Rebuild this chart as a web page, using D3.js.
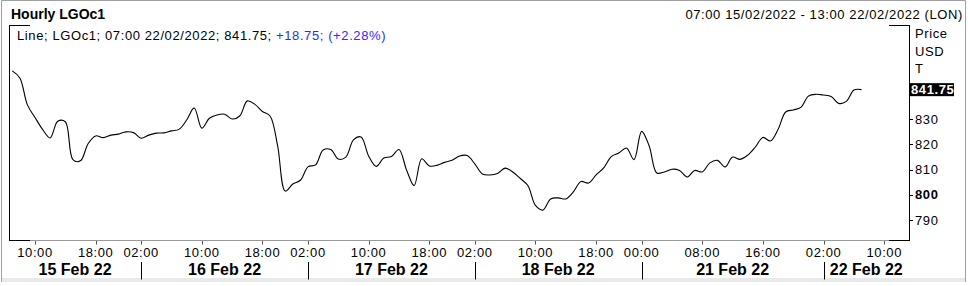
<!DOCTYPE html>
<html>
<head>
<meta charset="utf-8">
<script src="https://cdn.jsdelivr.net/npm/d3@7"></script>
<style>
  html, body { margin: 0; padding: 0; background: #fff; }
  svg { display: block; }
  text { font-family: "Liberation Sans", Arial, sans-serif; }
</style>
</head>
<body>
<svg id="chart" width="968" height="286"></svg>
<script>
// ---------- data ----------
const title = "Hourly LGOc1";
const rangeText = "07:00 15/02/2022 - 13:00 22/02/2022 (LON)";
const legendBlack = "Line; LGOc1; 07:00 22/02/2022; 841.75; ";
const legendBlue = "+18.75; (+2.28%)";
const unitLines = ["Price", "USD", "T"];

const dayLabels    = ["15 Feb 22", "16 Feb 22", "17 Feb 22", "18 Feb 22", "21 Feb 22", "22 Feb 22"];
const dayFirstHour = [7, 2, 2, 2, 0, 2];
const dayLastHour  = [23, 23, 23, 23, 23, 13];
const dayTickHours = [[10, 18], [2, 10, 18], [2, 10, 18], [2, 10, 18], [0, 8, 16], [2, 10]];

const yTicks = [790, 800, 810, 820, 830, 840];
const yBoldTick = 800;
const lastValue = 841.75;

// hourly closes, 07:00 15 Feb 2022 -> 07:00 22 Feb 2022
const prices = [
  849.2, 846.4, 835.7, 830.7, 826.0, 822.6, 829.2, 829.0, 814.0, 813.5,
  820.3, 823.4, 822.7, 823.7, 824.1, 825.0, 824.7, 822.5, 823.7, 824.5,
  824.6, 825.4, 826.0, 829.7, 834.5, 826.5, 830.4, 831.7, 832.0, 830.1,
  831.3, 837.3, 835.9, 833.1, 831.3, 819.4, 801.5, 804.3, 805.8, 811.1,
  811.9, 817.8, 818.0, 814.2, 815.0, 821.8, 823.0, 815.4, 811.3, 814.6,
  815.2, 818.0, 809.9, 803.7, 814.3, 811.5, 811.7, 812.9, 813.7, 815.4,
  815.6, 812.3, 808.3, 807.9, 808.5, 810.6, 809.1, 806.5, 803.7, 795.8,
  794.0, 798.4, 798.8, 798.4, 801.2, 805.3, 804.7, 807.9, 810.7, 815.2,
  816.6, 818.6, 814.0, 825.2, 819.4, 808.7, 809.1, 810.2, 809.7, 807.1,
  809.7, 809.1, 812.7, 813.7, 811.1, 815.0, 814.1, 815.8, 819.0, 822.8,
  821.4, 826.0, 832.9, 833.7, 834.7, 839.2, 839.9, 839.6, 839.0, 836.3,
  837.1, 841.6, 841.75
];

// ---------- build bar sequence (trading hours only) ----------
const bars = [];
dayLabels.forEach((d, di) => {
  for (let h = dayFirstHour[di]; h <= dayLastHour[di]; h++) bars.push({ day: di, hour: h });
});
bars.forEach((b, i) => b.i = i);

// ---------- layout ----------
const svg = d3.select("#chart");
const plot = { left: 9, right: 909, top: 25, bottom: 240 };
const FONT_LS = "0.6px";

const x = d3.scaleLinear().domain([0, bars.length - 1]).range([12.25, 907]);
const y = d3.scaleLinear().domain([782.1, 867.4]).range([plot.bottom, plot.top]);

// outer panel border
svg.append("rect").attr("x", 2).attr("y", 278).attr("width", 963).attr("height", 4).attr("fill", "#e9e9e9");
svg.append("path").attr("d", `M1.5,282 V0.5 H965.5 V282`).attr("fill", "none").attr("stroke", "#a0a0a0");

// title / header
svg.append("text").attr("x", 11).attr("y", 19.3).attr("font-size", 14).attr("font-weight", "bold")
  .attr("fill", "#000").text(title);
svg.append("text").attr("x", 963).attr("y", 18.5).attr("font-size", 13).attr("text-anchor", "end")
  .attr("letter-spacing", FONT_LS).attr("fill", "#000").text(rangeText);

// line clip
svg.append("clipPath").attr("id", "clip").append("rect")
  .attr("x", plot.left).attr("y", plot.top).attr("width", plot.right - plot.left).attr("height", plot.bottom - plot.top);

// x axis base line (gray)
svg.append("line").attr("x1", plot.left).attr("x2", plot.right).attr("y1", 240.5).attr("y2", 240.5)
  .attr("stroke", "#9a9a9a");

// frame: vertical sides + corner segments
const frame = svg.append("g").attr("stroke", "#000").attr("fill", "none");
frame.append("path").attr("d",
  `M${plot.left + 0.5},${plot.top + 0.5} V${plot.bottom + 0.5}` +
  `M${plot.right + 0.5},${plot.top + 0.5} V${plot.bottom + 0.5}` +
  `M${plot.left},${plot.top + 0.5} H30` +
  `M889,${plot.top + 0.5} H${plot.right + 1}` +
  `M${plot.left},${plot.bottom + 0.5} H30` +
  `M889,${plot.bottom + 0.5} H${plot.right + 1}`);

// price line
const line = d3.line()
  .x((d, i) => x(i))
  .y(d => y(d))
  .curve(d3.curveCatmullRom.alpha(0.5));
svg.append("path").datum(prices)
  .attr("clip-path", "url(#clip)")
  .attr("d", line)
  .attr("fill", "none")
  .attr("stroke", "#000")
  .attr("stroke-width", 1.1);

// legend
const leg = svg.append("text").attr("x", 17).attr("y", 39.5).attr("font-size", 13)
  .attr("letter-spacing", FONT_LS);
leg.append("tspan").attr("fill", "#000").text(legendBlack);
leg.append("tspan").attr("fill", "#2b2bff").text(legendBlue);

// last value marker position
const ly = y(lastValue);

// y axis (right); labels hidden under the last-value marker are not drawn
const yAxis = svg.append("g");
yTicks.forEach(t => {
  const yy = Math.round(y(t)) + 0.5;
  yAxis.append("line").attr("x1", plot.right + 1).attr("x2", plot.right + 4)
    .attr("y1", yy).attr("y2", yy).attr("stroke", "#000");
  if (Math.abs(y(t) - ly) < 12) return;
  yAxis.append("text").attr("x", 915).attr("y", y(t) + 4.6).attr("font-size", 13)
    .attr("letter-spacing", FONT_LS)
    .attr("font-weight", t === yBoldTick ? "bold" : "normal")
    .attr("fill", "#000").text(t);
});
unitLines.forEach((u, i) => {
  svg.append("text").attr("x", 915).attr("y", [38, 56, 73][i]).attr("font-size", 13)
    .attr("letter-spacing", FONT_LS).attr("fill", "#000").text(u);
});

svg.append("rect").attr("x", plot.right).attr("y", ly - 6.5).attr("width", 45).attr("height", 13).attr("fill", "#000");
svg.append("text").attr("x", plot.right + 2).attr("y", ly + 4.5).attr("font-size", 13).attr("font-weight", "bold")
  .attr("letter-spacing", FONT_LS).attr("fill", "#fff").text(lastValue.toFixed(2));

// x axis ticks
const pad = n => (n < 10 ? "0" : "") + n + ":00";
const ticks = bars.filter(b => dayTickHours[b.day].includes(b.hour));
const xAxis = svg.append("g");
ticks.forEach(b => {
  const xx = Math.round(x(b.i)) + 0.5;
  xAxis.append("line").attr("x1", xx).attr("x2", xx).attr("y1", 241).attr("y2", 244.5).attr("stroke", "#555");
  xAxis.append("text").attr("x", x(b.i)).attr("y", 257).attr("font-size", 13)
    .attr("letter-spacing", FONT_LS).attr("text-anchor", "middle").attr("fill", "#000").text(pad(b.hour));
});

// day labels and separators
const dayStarts = dayLabels.map((d, di) => bars.find(b => b.day === di).i);
dayLabels.forEach((d, di) => {
  const x0 = di === 0 ? plot.left : x(dayStarts[di]);
  const x1 = di === dayLabels.length - 1 ? plot.right : x(dayStarts[di + 1]);
  if (di > 0) {
    const sx = Math.round(x0) + 0.5;
    svg.append("line").attr("x1", sx).attr("x2", sx).attr("y1", 262).attr("y2", 279.5).attr("stroke", "#000");
  }
  svg.append("text").attr("x", (x0 + x1) / 2).attr("y", 275).attr("font-size", 16).attr("font-weight", "bold")
    .attr("text-anchor", "middle").attr("fill", "#000").text(d);
});
</script>
</body>
</html>
